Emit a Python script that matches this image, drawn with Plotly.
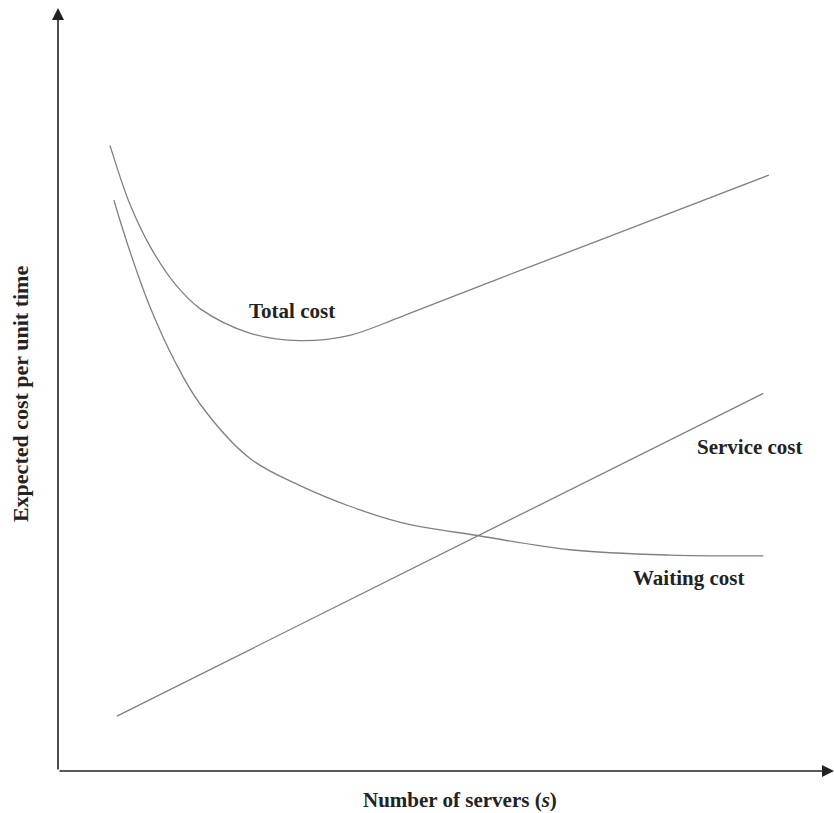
import plotly.graph_objects as go

# Data (arbitrary units)
total_x = [0.67, 0.93, 1.19, 1.51, 1.83, 2.47, 3.12, 3.76, 4.41, 5.70, 6.99, 9.16]
total_y = [8.20, 7.42, 6.87, 6.38, 6.06, 5.74, 5.64, 5.71, 5.95, 6.46, 6.96, 7.81]

waiting_x = [0.72, 0.93, 1.19, 1.51, 1.83, 2.47, 3.12, 3.76, 4.41, 5.44, 6.60, 7.89, 9.09]
waiting_y = [7.48, 6.80, 6.07, 5.36, 4.81, 4.10, 3.74, 3.47, 3.26, 3.08, 2.90, 2.83, 2.82]

service_x = [0.76, 9.09]
service_y = [0.72, 4.95]

labels = ["Total cost", "Service cost", "Waiting cost"]
label_x = [3.02, 8.92, 8.13]
label_y = [6.03, 4.25, 2.53]

line_color = "#808080"
font_family = "Liberation Serif, Times New Roman, serif"

fig = go.Figure()
for xs, ys in [(total_x, total_y), (waiting_x, waiting_y), (service_x, service_y)]:
    fig.add_trace(go.Scatter(x=xs, y=ys, mode="lines",
                             line=dict(color=line_color, width=1.3, shape="spline", smoothing=1.0),
                             showlegend=False, hoverinfo="skip"))

for t, lx, ly in zip(labels, label_x, label_y):
    fig.add_annotation(x=lx, y=ly, text="<b>%s</b>" % t, showarrow=False,
                       font=dict(size=21, color="#222", family=font_family),
                       xanchor="center", yanchor="middle")

# axes with arrows
fig.add_annotation(x=10, y=0, ax=0, ay=0, xref="x", yref="y", axref="x", ayref="y",
                   showarrow=True, arrowhead=2, arrowsize=1.5, arrowwidth=1.6,
                   arrowcolor="#222", text="", standoff=0)
fig.add_annotation(x=0, y=10, ax=0, ay=0, xref="x", yref="y", axref="x", ayref="y",
                   showarrow=True, arrowhead=2, arrowsize=1.5, arrowwidth=1.6,
                   arrowcolor="#222", text="", standoff=0)

# axis titles
fig.add_annotation(x=0.518, y=-0.038, xref="paper", yref="paper",
                   text="<b>Number of servers (<i>s</i>)</b>", showarrow=False,
                   font=dict(size=21, color="#222", family=font_family),
                   xanchor="center", yanchor="middle")
fig.add_annotation(x=-0.049, y=0.494, xref="paper", yref="paper",
                   text="<b>Expected cost per unit time</b>", showarrow=False, textangle=-90,
                   font=dict(size=22, color="#222", family=font_family),
                   xanchor="center", yanchor="middle")

fig.update_xaxes(range=[0, 10], visible=False)
fig.update_yaxes(range=[0, 10], visible=False)
fig.update_layout(width=834, height=813, margin=dict(l=58, r=0, t=8, b=42),
                  plot_bgcolor="white", paper_bgcolor="white")

fig.write_html("out.html", config={"displayModeBar": False},
               post_script="document.body.style.margin='0';")
